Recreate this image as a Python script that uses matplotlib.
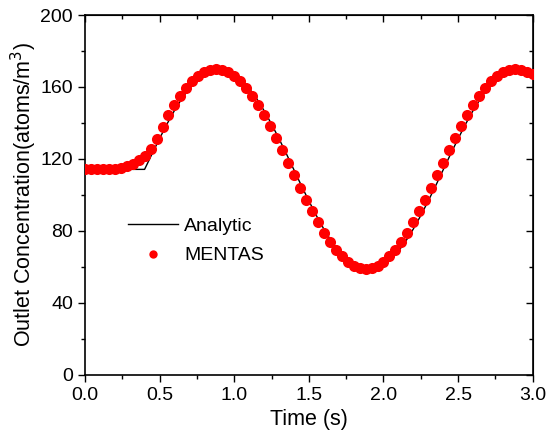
import matplotlib.pyplot as plt
from matplotlib.ticker import MultipleLocator

plt.rcParams['font.family'] = ['Liberation Sans', 'DejaVu Sans']

# analytic solution
t_analytic = [0.00, 0.40, 0.45, 0.50, 0.55, 0.60, 0.65, 0.70, 0.75, 0.80, 0.85,
              0.90, 0.95, 1.00, 1.05, 1.10, 1.15, 1.20, 1.25, 1.30, 1.35,
              1.40, 1.45, 1.50, 1.55, 1.60, 1.65, 1.70, 1.75, 1.80, 1.85,
              1.90, 1.95, 2.00, 2.05, 2.10, 2.15, 2.20, 2.25, 2.30, 2.35,
              2.40, 2.45, 2.50, 2.55, 2.60, 2.65, 2.70, 2.75, 2.80, 2.85,
              2.90, 2.95, 3.00]
c_analytic = [114.2, 114.2, 122.8, 131.3, 139.4, 146.9, 153.6, 159.3, 163.9, 167.3, 169.3,
              170.0, 169.3, 167.3, 163.9, 159.3, 153.6, 146.9, 139.4, 131.3, 122.8,
              114.0, 105.2, 96.7, 88.6, 81.1, 74.4, 68.7, 64.1, 60.7, 58.7,
              58.0, 58.7, 60.7, 64.1, 68.7, 74.4, 81.1, 88.6, 96.7, 105.2,
              114.0, 122.8, 131.3, 139.4, 146.9, 153.6, 159.3, 163.9, 167.3, 169.3,
              170.0, 169.3, 167.3]

# MENTAS simulation points, every 0.04 s
t_mentas = [round(0.04 * i, 2) for i in range(76)]
c_mentas = [114.5, 114.5, 114.5, 114.5, 114.5, 114.5, 115.0, 115.8, 117.2, 119.3,
            121.8, 125.6, 131.0, 137.5, 144.2, 149.9, 155.0, 159.4, 163.1, 166.1,
            168.3, 169.6, 170.0, 169.6, 168.3, 166.1, 163.1, 159.4, 155.0, 149.9,
            144.2, 138.1, 131.6, 124.9, 118.0, 111.0, 104.1, 97.4, 90.9, 84.8,
            79.1, 74.0, 69.6, 65.9, 62.9, 60.7, 59.4, 59.0, 59.4, 60.7,
            62.9, 65.9, 69.6, 74.0, 79.1, 84.8, 90.9, 97.4, 104.1, 111.0,
            118.0, 124.9, 131.6, 138.1, 144.2, 149.9, 155.0, 159.4, 163.1, 166.1,
            168.3, 169.6, 170.0, 169.6, 168.3, 167.0]

fig = plt.figure(figsize=(5.51, 4.42), dpi=100)
ax = fig.add_axes([0.154, 0.152, 0.813, 0.814])

ax.plot(t_analytic, c_analytic, '-', color='black', lw=1.0, label='Analytic', zorder=2)
ax.plot(t_mentas, c_mentas, 'o', color='#ff0000', ms=8, mec='none', label='MENTAS', zorder=3)

ax.set_xlim(0, 3)
ax.set_ylim(0, 200)
ax.xaxis.set_major_locator(MultipleLocator(0.5))
ax.xaxis.set_minor_locator(MultipleLocator(0.25))
ax.yaxis.set_major_locator(MultipleLocator(40))
ax.yaxis.set_minor_locator(MultipleLocator(20))
ax.tick_params(which='both', direction='out', width=1.0, labelsize=14)
ax.tick_params(which='major', length=5)
ax.tick_params(which='minor', length=3)
for s in ax.spines.values():
    s.set_linewidth(1.2)

# mirrored ticks on top/right, pointing inward, no labels
axr = ax.secondary_yaxis('right')
axr.yaxis.set_major_locator(MultipleLocator(40))
axr.yaxis.set_minor_locator(MultipleLocator(20))
axr.tick_params(which='both', direction='in', labelright=False, width=1.0)
axr.tick_params(which='major', length=5)
axr.tick_params(which='minor', length=3)
axt = ax.secondary_xaxis('top')
axt.xaxis.set_major_locator(MultipleLocator(0.5))
axt.xaxis.set_minor_locator(MultipleLocator(0.25))
axt.tick_params(which='both', direction='in', labeltop=False, width=1.0)
axt.tick_params(which='major', length=5)
axt.tick_params(which='minor', length=3)

ax.set_xlabel('Time (s)', fontsize=15.5, labelpad=4)
ax.set_ylabel('Outlet Concentration(atoms/m$^3$)', fontsize=15.5, labelpad=1)

ax.legend(loc='upper left', bbox_to_anchor=(0.096, 0.437), frameon=False,
          fontsize=14, handlelength=2.6, handletextpad=0.3, borderpad=0,
          borderaxespad=0, labelspacing=0.6, markerscale=0.75)

fig.savefig('out.png', dpi=100)
